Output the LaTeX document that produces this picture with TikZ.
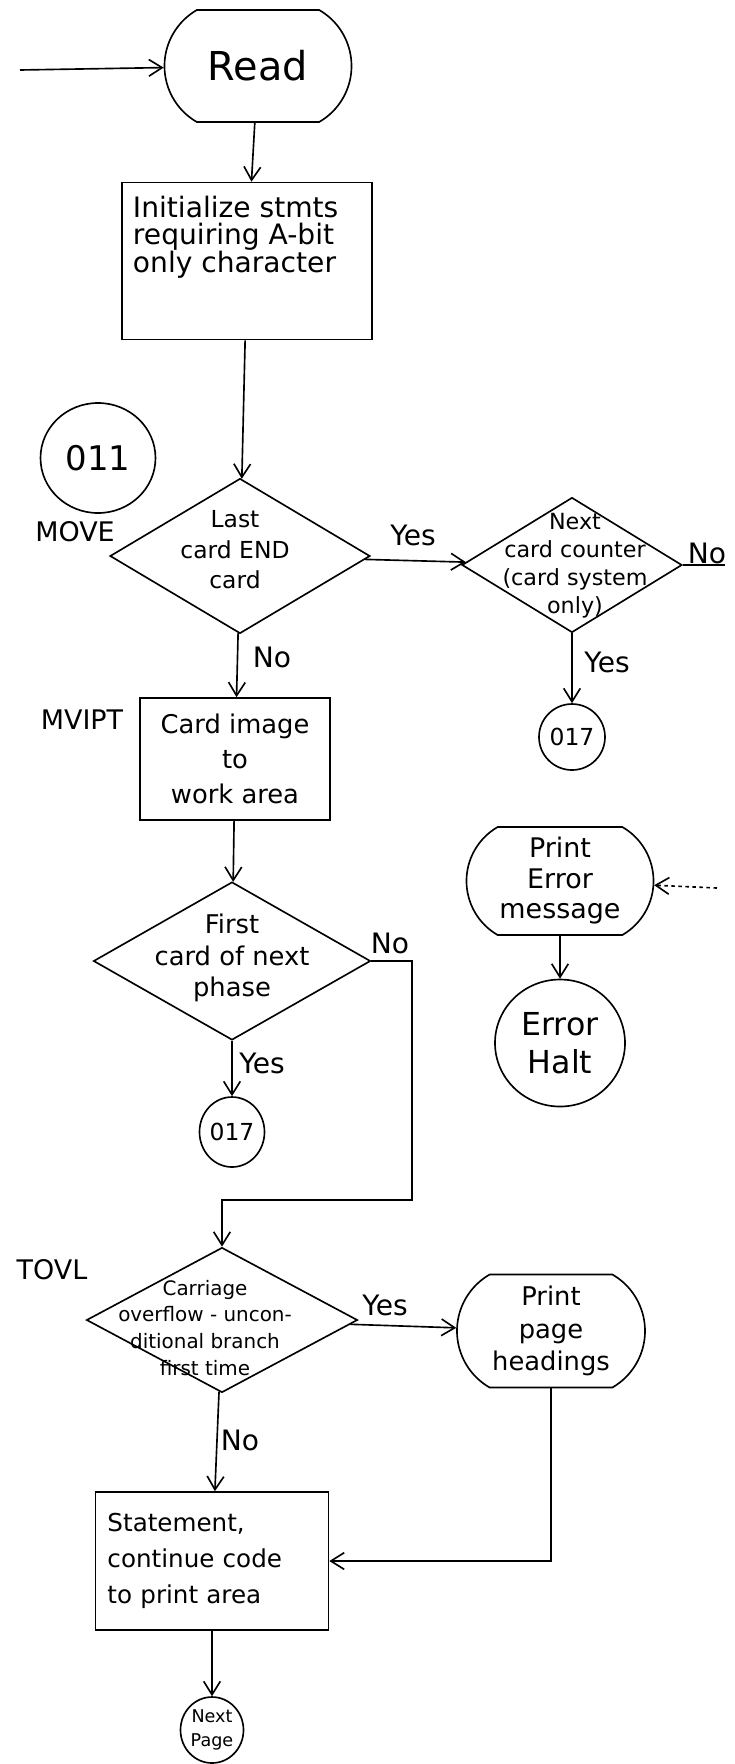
\documentclass[tikz,border=0pt]{standalone}
\usepackage{fontspec}
\setmainfont{DejaVu Sans}
\usepackage{tikz}
\usetikzlibrary{shapes.geometric,shapes.misc,positioning,arrows.meta}

\begin{document}
\begin{tikzpicture}[x=0.03cm,y=-0.03cm,node distance=2cm,on grid,
    line width=1.4pt,>={Straight Barb[length=4mm,width=5mm]},
    term/.style={draw,rounded rectangle,rounded rectangle arc length=120,inner sep=0pt,align=center},
    proc/.style={draw,rectangle,inner sep=0pt},
    decide/.style={draw,diamond,inner sep=0pt},
    conn/.style={draw,ellipse,inner sep=0pt,align=center},
    dtext/.style={align=center,inner sep=0pt},
    tag/.style={inner sep=0pt,font=\fontsize{23}{26}\selectfont},
    yn/.style={inner sep=0pt,font=\fontsize{24}{26}\selectfont}]
  \useasboundingbox (0,0) rectangle (735,1764);

  % main column
  \node[term,minimum width=5.61cm,minimum height=3.36cm,font=\fontsize{34}{40}\selectfont] (read) at (258,66) {Read};
  \node[proc,minimum width=7.5cm,minimum height=4.71cm,font=\fontsize{24}{23}\selectfont] (init) at (247,261)
    {\parbox[c][3.9cm][t]{6.84cm}{\raggedright Initialize stmts\\requiring A-bit\\only character}};
  \node[conn,minimum width=3.45cm,minimum height=3.3cm,font=\fontsize{29}{32}\selectfont] (c11) at (98,458) {011};

  \node[decide,minimum width=7.8cm,minimum height=4.65cm] (d1) at (240,556) {};
  \node[dtext,font=\fontsize{20}{26}\selectfont] (d1t) at (235,550) {Last\\card END\\card};
  \node[decide,minimum width=6.6cm,minimum height=4.05cm] (d2) at (572,565) {};
  \node[dtext,font=\fontsize{19}{24}\selectfont] (d2t) at (575,566) {Next\\card counter\\(card system\\only)};
  \node[conn,minimum width=1.98cm,minimum height=1.98cm,font=\fontsize{20}{22}\selectfont] (c17a) [below=5.16cm of d2] {017};

  \node[proc,minimum width=5.7cm,minimum height=3.66cm,align=center,font=\fontsize{22}{30}\selectfont] (mvipt) at (235,759) {Card image\\to\\work area};
  \node[decide,minimum width=8.31cm,minimum height=4.74cm] (d3) at (232,961) {};
  \node[dtext,font=\fontsize{22}{27}\selectfont] (d3t) at (232,958) {First\\card of next\\phase};
  \node[conn,minimum width=1.95cm,minimum height=2.1cm,font=\fontsize{20}{22}\selectfont] (c17b) [below=5.13cm of d3] {017};

  % error branch
  \node[term,minimum width=5.61cm,minimum height=3.24cm,font=\fontsize{23}{26}\selectfont] (prterr) at (560,881) {Print\\Error\\message};
  \node[conn,minimum width=3.9cm,minimum height=3.81cm,font=\fontsize{27}{32}\selectfont] (errhalt) [below=4.86cm of prterr] {Error\\Halt};

  \node[decide,minimum width=8.13cm,minimum height=4.35cm] (d4) at (222,1320) {};
  \node[dtext,font=\fontsize{17}{23}\selectfont] (d4t) at (205,1328) {Carriage\\overflow - uncon-\\ditional branch\\first time};
  \node[term,minimum width=5.64cm,minimum height=3.39cm,font=\fontsize{22}{28}\selectfont] (ppage) at (551,1331) {Print\\page\\headings};
  \node[proc,minimum width=6.99cm,minimum height=4.14cm,text width=6.27cm,align=left,font=\fontsize{21}{31}\selectfont] (stmt) at (212,1561) {Statement,\\continue code\\to print area};
  \node[conn,minimum width=1.89cm,minimum height=1.98cm,font=\fontsize{15}{20}\selectfont] (nextpg) [below=5.07cm of stmt] {Next\\Page};

  % tags and branch labels
  \node[tag] (lmove) at (75,532) {MOVE};
  \node[tag] (lmvipt) at (82,720) {MVIPT};
  \node[tag] (ltovl) at (52,1270) {TOVL};
  \node[yn] (y1) at (413,535) {Yes};
  \node[yn] (n1) at (272,657) {No};
  \node[yn] (n2) at (707,553) {No};
  \node[yn] (y2) at (607,662) {Yes};
  \node[yn] (n3) at (390,943) {No};
  \node[yn] (y3) at (262,1063) {Yes};
  \node[yn] (y4) at (385,1305) {Yes};
  \node[yn] (n4) at (240,1440) {No};

  \coordinate (rin) at (20,70);
  \coordinate (ein) at (717,888);
  \coordinate (n2end) at (725,565);
  \coordinate (n3bend) at (412,1200);

  \path[->] (rin) edge (read);
  \path[->] (read) edge (init);
  \path[->] (init) edge (d1);
  \path[->] (d1) edge (d2);
  \path[->] (d1) edge (mvipt);
  \draw (d2.east) -- (n2end);
  \path[->] (d2) edge (c17a);
  \path[->] (mvipt) edge (d3);
  \path[->] (d3) edge (c17b);
  \draw[->] (d3.east) -| (n3bend) -| (d4.north);
  \path[->,dashed] (ein) edge (prterr);
  \path[->] (prterr) edge (errhalt);
  \path[->] (d4) edge (ppage);
  \path[->] (d4) edge (stmt);
  \draw[->] (ppage.south) |- (stmt.east);
  \path[->] (stmt) edge (nextpg);
\end{tikzpicture}
\end{document}
